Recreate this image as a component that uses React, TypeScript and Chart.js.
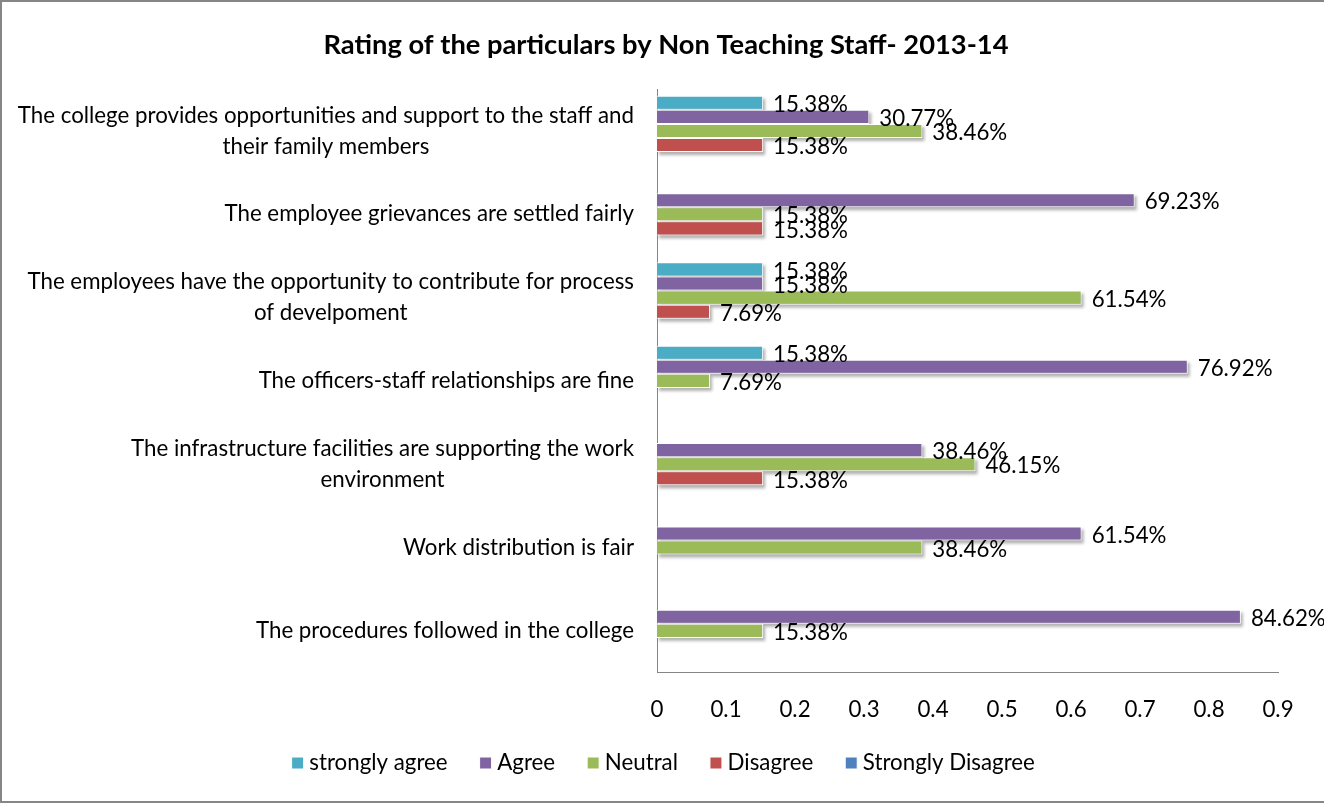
import React, { useEffect, useRef } from 'react';
import { Chart, registerables } from 'chart.js';

Chart.register(...registerables);

const chartTitle = 'Rating of the particulars by Non Teaching Staff- 2013-14';

const categories: string[][] = [
  ['The college provides opportunities and support to the staff and', 'their family members'],
  ['The employee grievances are settled fairly'],
  ['The employees have the opportunity to contribute for process', 'of develpoment'],
  ['The officers-staff relationships are fine'],
  ['The infrastructure facilities are supporting the work', 'environment'],
  ['Work distribution is fair'],
  ['The procedures followed in the college'],
];

const seriesNames = ['strongly agree', 'Agree', 'Neutral', 'Disagree', 'Strongly Disagree'];
const stronglyAgree = [0.1538, null, 0.1538, 0.1538, null, null, null];
const agree = [0.3077, 0.6923, 0.1538, 0.7692, 0.3846, 0.6154, 0.8462];
const neutral = [0.3846, 0.1538, 0.6154, 0.0769, 0.4615, 0.3846, 0.1538];
const disagree = [0.1538, 0.1538, 0.0769, null, 0.1538, null, null];
const stronglyDisagree = [null, null, null, null, null, null, null];
const seriesColors = ['#4BACC6', '#8064A2', '#9BBB59', '#C0504D', '#4F81BD'];
const xTickLabels = ['0', '0.1', '0.2', '0.3', '0.4', '0.5', '0.6', '0.7', '0.8', '0.9'];

const FAMILY = "Lato, 'Open Sans', sans-serif";
const F = 22.3; // body font size
const T = 27.3; // title font size
const CW = 1322;
const CH = 799;
const PLOT_LEFT = 655;
const PLOT_RIGHT = 1276;
const PLOT_TOP = 87.3;
const PLOT_BOTTOM = 670.5;
const PAD_L = 52;
const LEG_PAD = 37.5;
const LEG_CENTER = 761;
const TICK_OFFSET = 37.8; // tick label centre below plot bottom
const TITLE_CENTER = 43;

const legendTop = LEG_CENTER - LEG_PAD - F / 2;
const legendBottom = legendTop + F + LEG_PAD + 10;
const padBottom = CH - legendBottom;
const xAxisH = legendTop - PLOT_BOTTOM;

const fmtPct = (v: number) => (v * 100).toFixed(2) + '%';

const shadowPlugin = {
  id: 'barShadow',
  beforeDatasetsDraw(chart: any) {
    const ctx = chart.ctx;
    ctx.save();
    ctx.filter = 'blur(1.5px)';
    ctx.fillStyle = 'rgba(0,0,0,0.3)';
    chart.data.datasets.forEach((ds: any, di: number) => {
      const meta = chart.getDatasetMeta(di);
      meta.data.forEach((el: any, i: number) => {
        if (ds.data[i] == null) return;
        const { x, y, base, height } = el.getProps(['x', 'y', 'base', 'height'], true);
        ctx.fillRect(Math.min(base, x) + 2, y - height / 2 + 3, Math.abs(x - base), height);
      });
    });
    ctx.restore();
  },
};

const valueLabelPlugin = {
  id: 'valueLabels',
  afterDatasetsDraw(chart: any) {
    const ctx = chart.ctx;
    ctx.save();
    ctx.font = `${F}px ${FAMILY}`;
    ctx.fillStyle = '#000';
    ctx.textAlign = 'left';
    ctx.textBaseline = 'middle';
    chart.data.datasets.forEach((ds: any, di: number) => {
      const meta = chart.getDatasetMeta(di);
      meta.data.forEach((el: any, i: number) => {
        const v = ds.data[i];
        if (v == null) return;
        const { x, y } = el.getProps(['x', 'y'], true);
        ctx.fillText(fmtPct(v), x + 10, y + 2);
      });
    });
    ctx.restore();
  },
};

const axisLabelPlugin = {
  id: 'axisLabels',
  afterDraw(chart: any) {
    const ctx = chart.ctx;
    const yScale = chart.scales.y;
    const xScale = chart.scales.x;
    const right = chart.chartArea.left - 23;
    const lineH = 31;
    ctx.save();
    ctx.font = `${F}px ${FAMILY}`;
    ctx.fillStyle = '#000';
    ctx.textAlign = 'center';
    ctx.textBaseline = 'middle';
    categories.forEach((lines, i) => {
      const w = Math.max(...lines.map((l) => ctx.measureText(l).width));
      const cx = right - w / 2;
      const cy = yScale.getPixelForValue(i);
      const startY = cy - ((lines.length - 1) * lineH) / 2;
      lines.forEach((l, j) => ctx.fillText(l, cx, startY + j * lineH));
    });
    const ty = chart.chartArea.bottom + TICK_OFFSET;
    xScale.ticks.forEach((t: any) => {
      const label = xTickLabels[Math.round(Number(t.value) * 10)];
      if (label == null) return;
      ctx.fillText(label, xScale.getPixelForValue(t.value), ty);
    });
    ctx.restore();
  },
};

export default function App() {
  const ref = useRef<HTMLCanvasElement | null>(null);
  useEffect(() => {
    if (!ref.current) return;
    const seriesData = [stronglyAgree, agree, neutral, disagree, stronglyDisagree];
    const chart = new Chart(ref.current, {
      type: 'bar',
      data: {
        labels: categories,
        datasets: seriesNames.map((name, k) => ({
          label: name,
          data: seriesData[k] as any,
          backgroundColor: seriesColors[k],
          borderColor: '#ffffff',
          borderWidth: 1,
          barPercentage: 1,
          categoryPercentage: 0.846,
        })),
      },
      options: {
        indexAxis: 'y',
        animation: false,
        responsive: false,
        devicePixelRatio: 1,
        layout: { padding: { left: PAD_L, right: CW - PLOT_RIGHT, top: 0, bottom: padBottom } },
        scales: {
          y: {
            type: 'category',
            grid: { display: false, drawTicks: false },
            border: { display: true, color: '#868686', width: 1 },
            ticks: { display: false },
            afterFit: (s: any) => {
              s.width = PLOT_LEFT - PAD_L;
            },
          },
          x: {
            type: 'linear',
            min: 0,
            max: 0.9,
            grid: { display: false, drawTicks: false },
            border: { display: true, color: '#868686', width: 1 },
            ticks: { stepSize: 0.1, display: false },
            afterFit: (s: any) => {
              s.height = xAxisH;
            },
          },
        },
        plugins: {
          title: {
            display: true,
            text: chartTitle,
            color: '#000',
            font: { family: FAMILY, size: T, weight: 'bold' },
            padding: { top: TITLE_CENTER - 0.6 * T, bottom: PLOT_TOP - TITLE_CENTER - 0.6 * T },
          },
          legend: {
            display: true,
            position: 'bottom',
            labels: {
              color: '#000',
              font: { family: FAMILY, size: F },
              usePointStyle: true,
              pointStyle: 'rect',
              boxWidth: 1,
              boxHeight: 12,
              padding: LEG_PAD,
            },
          },
          tooltip: { enabled: false },
        },
      },
      plugins: [shadowPlugin, valueLabelPlugin, axisLabelPlugin],
    } as any);
    return () => chart.destroy();
  }, []);

  return (
    <div
      style={{
        position: 'absolute',
        left: 0,
        top: 0,
        width: 1324,
        height: 803,
        boxSizing: 'border-box',
        borderLeft: '2px solid #868686',
        borderTop: '2px solid #868686',
        borderBottom: '2px solid #868686',
        background: '#fff',
      }}
    >
      <canvas ref={ref} width={CW} height={CH} style={{ display: 'block', width: CW, height: CH }} />
    </div>
  );
}
